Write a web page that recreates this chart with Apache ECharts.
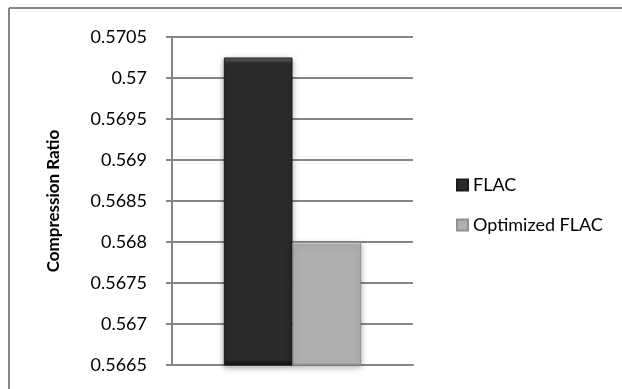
<!DOCTYPE html>
<html>
<head>
<meta charset="utf-8">
<script src="https://cdn.jsdelivr.net/npm/echarts@6/dist/echarts.min.js"></script>
<style>
  html, body { margin: 0; padding: 0; background: #fff; }
  #chart { width: 622px; height: 389px; }
</style>
</head>
<body>
<div id="chart"></div>
<script>
const categories = ['Compression'];
const seriesNames = ['FLAC', 'Optimized FLAC'];
const flacValues = [0.57025];
const optimizedValues = [0.568];
const yMin = 0.5665;
const yMax = 0.5705;
const yStep = 0.0005;

const gray = '#868686';
const font = 'Lato, "Noto Sans", sans-serif';

const chart = echarts.init(document.getElementById('chart'));

function bevelColor(base, light, dark) {
  return {
    type: 'linear', x: 0, y: 0, x2: 0, y2: 1,
    colorStops: [
      { offset: 0, color: light },
      { offset: 0.02, color: base },
      { offset: 0.98, color: base },
      { offset: 1, color: dark }
    ]
  };
}

chart.setOption({
  animation: false,
  textStyle: { fontFamily: font },
  grid: { left: 172, right: 209, top: 37, bottom: 24 },
  legend: {
    orient: 'vertical',
    left: 451,
    top: 171,
    itemWidth: 11,
    itemHeight: 11,
    itemGap: 22,
    icon: 'rect',
    textStyle: { fontFamily: font, fontSize: 18, color: '#000' },
    data: seriesNames
  },
  xAxis: {
    type: 'category',
    data: categories,
    axisLine: { lineStyle: { color: gray, width: 2 } },
    axisTick: { show: false },
    axisLabel: { show: false }
  },
  yAxis: {
    type: 'value',
    min: yMin,
    max: yMax,
    interval: yStep,
    name: 'Compression Ratio',
    nameLocation: 'middle',
    nameGap: 110,
    nameTextStyle: { fontFamily: font, fontSize: 17, fontWeight: 'bold', color: '#000' },
    axisLine: { show: true, lineStyle: { color: gray, width: 2 } },
    axisTick: { show: true, length: 6, lineStyle: { color: gray, width: 2 } },
    axisLabel: {
      fontFamily: font, fontSize: 18, color: '#000', margin: 25,
      formatter: v => String(parseFloat(v.toFixed(4)))
    },
    splitLine: { lineStyle: { color: gray, width: 2 } }
  },
  series: [
    {
      name: seriesNames[0],
      type: 'bar',
      data: flacValues,
      barGap: '0%',
      barCategoryGap: '43%',
      itemStyle: {
        color: bevelColor('#2b2b2b', '#6a6a6a', '#111'),
        borderColor: '#1a1a1a',
        borderWidth: 1,
        shadowColor: 'rgba(0,0,0,0.35)',
        shadowBlur: 6,
        shadowOffsetY: 2
      }
    },
    {
      name: seriesNames[1],
      type: 'bar',
      data: optimizedValues,
      itemStyle: {
        color: bevelColor('#b0b0b0', '#f2f2f2', '#8a8a8a'),
        borderColor: '#8f8f8f',
        borderWidth: 1,
        shadowColor: 'rgba(0,0,0,0.3)',
        shadowBlur: 6,
        shadowOffsetY: 2
      }
    }
  ],
  graphic: [
    { type: 'line', shape: { x1: 9, y1: 8, x2: 622, y2: 8 }, style: { stroke: gray, lineWidth: 2 } },
    { type: 'line', shape: { x1: 9, y1: 8, x2: 9, y2: 389 }, style: { stroke: gray, lineWidth: 2 } }
  ]
});
</script>
</body>
</html>
